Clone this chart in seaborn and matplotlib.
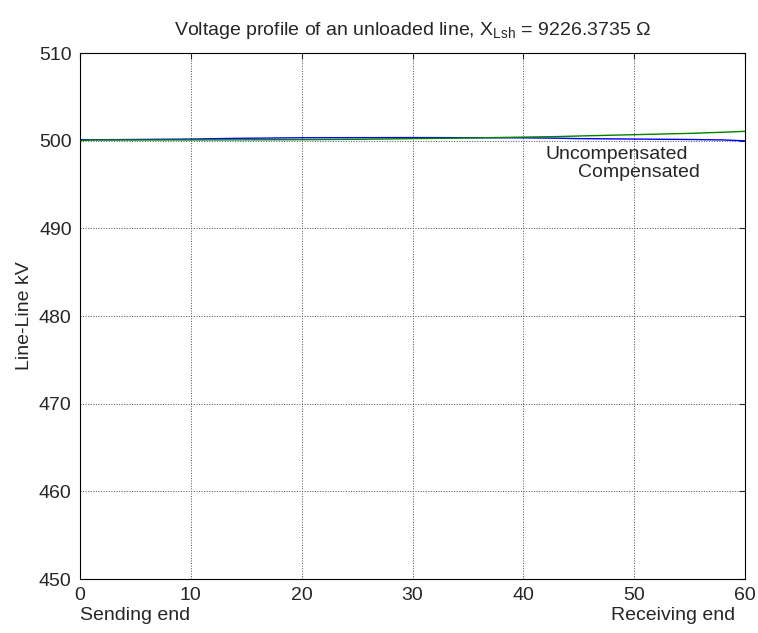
"""
Voltage profile of an unloaded line, with and without shunt compensation.
"""

import pandas as pd
import matplotlib.pyplot as plt
import seaborn as sns

# distance along the line and line-line voltage (kV)
distance = [0, 1, 5, 10, 14, 20, 25, 30, 35, 40, 43, 45, 50, 55, 58, 60]
uncompensated = [500.02, 500.1, 500.1, 500.1, 500.11, 500.13, 500.17, 500.25,
                 500.32, 500.42, 500.48, 500.55, 500.7, 500.85, 500.98, 501.08]
compensated = [500.12, 500.12, 500.15, 500.2, 500.28, 500.35, 500.36, 500.37,
               500.36, 500.34, 500.3, 500.25, 500.2, 500.15, 500.1, 500.0]

title = "Voltage profile of an unloaded line, X$_{\\mathregular{Lsh}}$ = 9226.3735 \u03a9"

sns.set_style("white")
plt.rcParams['font.family'] = ['Liberation Sans', 'DejaVu Sans']
plt.rcParams['mathtext.fontset'] = 'custom'
plt.rcParams['mathtext.rm'] = 'Liberation Sans'

FS = 14


def build_frame():
    rows = []
    for name, vals in [('Uncompensated', uncompensated),
                       ('Compensated', compensated)]:
        for x, v in zip(distance, vals):
            rows.append({'x': x, 'kV': v, 'case': name})
    return pd.DataFrame(rows)


df = build_frame()

fig = plt.figure(figsize=(7.58, 6.33), dpi=100)
ax = fig.add_axes([0.1055, 0.0853, 0.8775, 0.8307])

sns.lineplot(data=df, x='x', y='kV', hue='case',
             palette={'Uncompensated': '#008000', 'Compensated': '#0000ff'},
             hue_order=['Compensated', 'Uncompensated'],
             linewidth=1.0, legend=False, ax=ax)

ax.set_xlim(0, 60)
ax.set_ylim(450, 510)
ax.set_xticks(range(0, 61, 10))
ax.set_yticks(range(450, 511, 10))
ax.grid(True, color='0.3', linestyle=':', linewidth=0.7)
ax.tick_params(direction='in', length=4, top=True, right=True,
               labelsize=FS)
ax.tick_params(axis='x', pad=6)
ax.tick_params(axis='y', pad=6)
for side in ax.spines.values():
    side.set_color('black')
    side.set_linewidth(0.8)

ax.set_xlabel('')
ax.set_ylabel('Line-Line kV', fontsize=FS, labelpad=4)
ax.set_title(title, fontsize=FS, pad=13)

ax.text(42.0, 498.4, 'Uncompensated', fontsize=FS, va='center', ha='left')
ax.text(44.9, 496.35, 'Compensated', fontsize=FS, va='center', ha='left')

trans = ax.get_xaxis_transform()
ax.text(0, -0.069, 'Sending end', fontsize=FS, ha='left', va='center',
        transform=trans)
ax.text(59.1, -0.069, 'Receiving end', fontsize=FS, ha='right', va='center',
        transform=trans)

fig.savefig('out.png', dpi=100)
